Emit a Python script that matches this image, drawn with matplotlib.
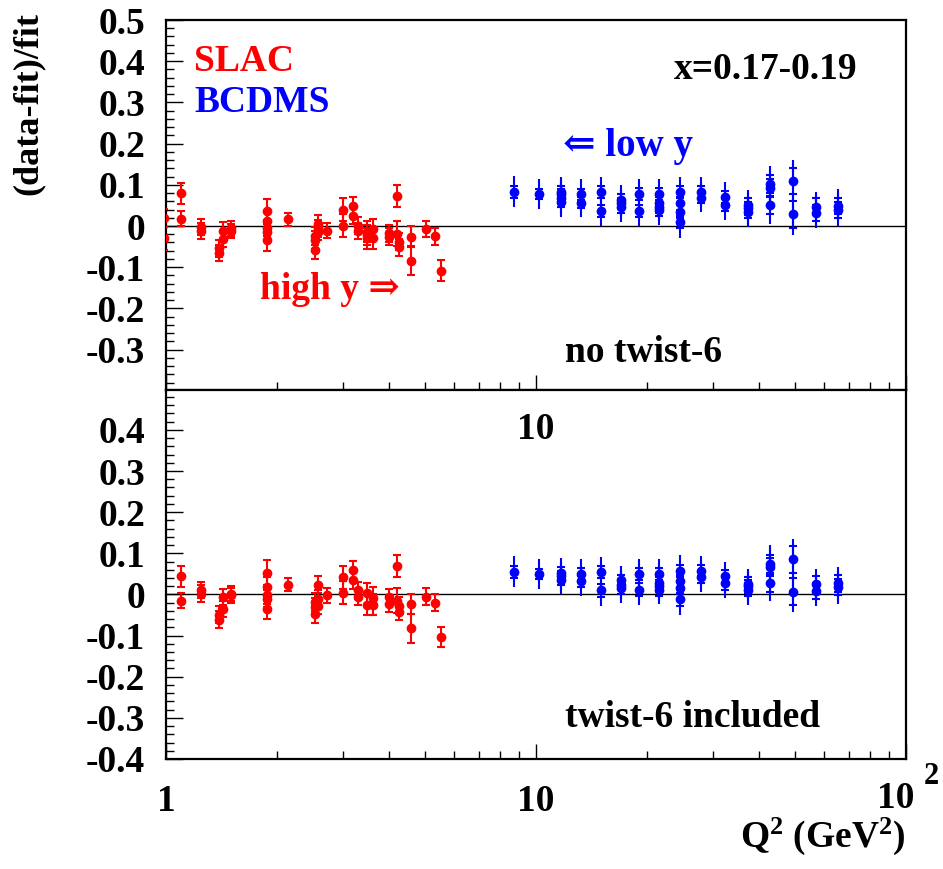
import numpy as np
import matplotlib
matplotlib.use('Agg')
import matplotlib.pyplot as plt

#%% data
# SLAC, upper panel (no twist-6)
slac_q2_top = [0.985, 0.985, 1.096, 1.096, 1.24, 1.24, 1.39, 1.39, 1.43, 1.43,
               1.50, 1.50, 1.87, 1.87, 1.87, 1.87, 1.87, 2.14, 2.52, 2.52,
               2.52, 2.58, 2.58, 2.58, 2.73, 3.00, 3.00, 3.20, 3.20, 3.30,
               3.30, 3.49, 3.49, 3.49, 3.63, 3.63, 4.01, 4.01, 4.20, 4.20,
               4.27, 4.27, 4.59, 4.59, 5.04, 5.33, 5.54]
slac_val_top = [0.020, -0.030, 0.079, 0.018, -0.002, -0.012, -0.054, -0.066, -0.011, -0.032,
                -0.006, -0.012, 0.036, 0.012, -0.005, -0.015, -0.035, 0.016, -0.025, -0.035,
                -0.058, 0.006, -0.006, -0.014, -0.011, 0.039, 0.001, 0.049, 0.025, 0.001,
                -0.012, -0.014, -0.022, -0.030, -0.007, -0.030, -0.018, -0.026, 0.073, -0.019,
                -0.038, -0.052, -0.026, -0.084, -0.007, -0.025, -0.108]
slac_err_top = [0.022, 0.028, 0.025, 0.018, 0.020, 0.020, 0.020, 0.020, 0.020, 0.020,
                0.018, 0.018, 0.030, 0.025, 0.020, 0.020, 0.025, 0.015, 0.022, 0.022,
                0.022, 0.020, 0.020, 0.020, 0.018, 0.028, 0.028, 0.022, 0.020, 0.020,
                0.020, 0.025, 0.025, 0.025, 0.025, 0.025, 0.020, 0.020, 0.027, 0.030,
                0.020, 0.020, 0.025, 0.035, 0.020, 0.020, 0.025]

# SLAC, lower panel (twist-6 included)
slac_q2_bot = [1.096, 1.096, 1.24, 1.24, 1.39, 1.39, 1.43, 1.43, 1.50, 1.50,
               1.87, 1.87, 1.87, 1.87, 1.87, 2.14, 2.52, 2.52, 2.52, 2.58,
               2.58, 2.58, 2.73, 3.00, 3.00, 3.20, 3.20, 3.30, 3.30, 3.49,
               3.49, 3.63, 3.63, 4.01, 4.01, 4.20, 4.20, 4.27, 4.27, 4.59,
               4.59, 5.04, 5.33, 5.54]
slac_val_bot = [0.044, -0.015, 0.011, 0.002, -0.049, -0.061, -0.006, -0.035, 0.002, -0.002,
                0.053, 0.018, -0.002, -0.010, -0.035, 0.024, -0.019, -0.031, -0.047, 0.024,
                -0.010, -0.027, -0.002, 0.042, 0.004, 0.060, 0.034, 0.010, -0.006, 0.003,
                -0.025, -0.008, -0.025, -0.006, -0.023, 0.070, -0.015, -0.027, -0.043, -0.023,
                -0.082, -0.005, -0.020, -0.103]
slac_err_bot = [0.025, 0.018, 0.020, 0.020, 0.020, 0.020, 0.020, 0.020, 0.018, 0.018,
                0.030, 0.025, 0.020, 0.020, 0.025, 0.015, 0.022, 0.022, 0.022, 0.020,
                0.020, 0.020, 0.018, 0.028, 0.028, 0.022, 0.020, 0.020, 0.020, 0.025,
                0.025, 0.025, 0.025, 0.020, 0.020, 0.027, 0.030, 0.020, 0.020, 0.025,
                0.035, 0.020, 0.020, 0.025]

# BCDMS, upper panel
bcdms_q2_top = [8.72, 10.2, 11.7, 11.7, 11.7, 11.7, 13.2, 13.2, 15.0, 15.0,
                17.0, 17.0, 17.0, 19.0, 19.0, 21.5, 21.5, 21.5, 21.5, 24.5,
                24.5, 24.5, 24.5, 27.9, 27.9, 32.4, 32.4, 37.5, 37.5, 37.5,
                42.9, 42.9, 42.9, 49.4, 49.4, 57.0, 57.0, 65.4, 65.4]
bcdms_val_top = [0.083, 0.078, 0.083, 0.077, 0.067, 0.059, 0.077, 0.057, 0.083, 0.036,
                 0.063, 0.055, 0.045, 0.077, 0.036, 0.077, 0.055, 0.047, 0.039, 0.082,
                 0.055, 0.035, 0.010, 0.083, 0.069, 0.071, 0.051, 0.051, 0.043, 0.035,
                 0.101, 0.092, 0.051, 0.110, 0.028, 0.047, 0.031, 0.049, 0.039]
# BCDMS, lower panel
bcdms_q2_bot = [8.72, 10.2, 11.7, 11.7, 11.7, 13.2, 13.2, 15.0, 15.0, 17.0,
                17.0, 17.0, 19.0, 19.0, 21.5, 21.5, 21.5, 21.5, 24.5, 24.5,
                24.5, 24.5, 27.9, 27.9, 32.4, 32.4, 37.5, 37.5, 37.5, 42.9,
                42.9, 42.9, 49.4, 49.4, 57.0, 57.0, 65.4, 65.4]
bcdms_val_bot = [0.055, 0.050, 0.053, 0.044, 0.036, 0.050, 0.032, 0.055, 0.010, 0.034,
                 0.024, 0.016, 0.050, 0.012, 0.050, 0.028, 0.020, 0.012, 0.057, 0.032,
                 0.016, -0.012, 0.058, 0.043, 0.044, 0.027, 0.026, 0.020, 0.012, 0.075,
                 0.067, 0.028, 0.085, 0.007, 0.026, 0.008, 0.027, 0.018]

# BCDMS errors by Q2 bin (stat, total)
bcdms_bins = [8.72, 10.2, 11.7, 13.2, 15.0, 17.0, 19.0, 21.5, 24.5, 27.9,
              32.4, 37.5, 42.9, 49.4, 57.0, 65.4]
bcdms_stat = [0.014, 0.013, 0.014, 0.014, 0.015, 0.014, 0.015, 0.015, 0.015, 0.014,
              0.015, 0.016, 0.022, 0.032, 0.020, 0.020]
bcdms_tot = [0.038, 0.037, 0.036, 0.036, 0.037, 0.036, 0.037, 0.036, 0.038, 0.036,
             0.036, 0.037, 0.045, 0.050, 0.035, 0.040]

yticks_top = [-0.3, -0.2, -0.1, 0, 0.1, 0.2, 0.3, 0.4, 0.5]
yticks_bot = [-0.4, -0.3, -0.2, -0.1, 0, 0.1, 0.2, 0.3, 0.4]

#%% style
FONT = ['Liberation Serif', 'DejaVu Serif']
plt.rcParams['font.family'] = FONT
plt.rcParams['font.weight'] = 'bold'
plt.rcParams['mathtext.fontset'] = 'custom'
plt.rcParams['mathtext.rm'] = 'Liberation Serif:bold'
plt.rcParams['mathtext.bf'] = 'Liberation Serif:bold'
plt.rcParams['mathtext.it'] = 'Liberation Serif:bold'
FS = 27
RED = '#ff0000'
BLUE = '#0000ff'


def fmt_tick(v):
    if v == 0:
        return '0'
    return ('%.1f' % v)


def style_axis(ax, yticks):
    ax.set_xscale('log')
    ax.set_xlim(1, 100)
    ax.set_ylim(-0.4, 0.5)
    for s in ax.spines.values():
        s.set_linewidth(1.6)
    ax.set_yticks(yticks)
    ax.set_yticklabels([fmt_tick(v) for v in yticks], fontsize=FS, fontweight='bold')
    ax.set_yticks(np.arange(-0.4, 0.5001, 0.02), minor=True)
    ax.tick_params(axis='y', which='major', direction='in', length=12, width=1.0,
                   left=True, right=False, pad=15)
    ax.tick_params(axis='y', which='minor', direction='in', length=6, width=1.0,
                   left=True, right=False)
    ax.tick_params(axis='x', which='major', direction='in', length=11, width=1.0,
                   top=False, bottom=True, pad=18)
    ax.tick_params(axis='x', which='minor', direction='in', length=6, width=1.0,
                   top=False, bottom=True)
    ax.axhline(0, color='black', lw=1.0, zorder=1)


def draw_bcdms(ax, q2, val):
    q2 = np.array(q2)
    stat = np.array([bcdms_stat[bcdms_bins.index(q)] for q in q2])
    tot = np.array([bcdms_tot[bcdms_bins.index(q)] for q in q2])
    ax.errorbar(q2, val, yerr=tot, fmt='none', ecolor=BLUE, elinewidth=1.5,
                capsize=0, zorder=3, clip_on=True)
    ax.errorbar(q2, val, yerr=stat, fmt='o', color=BLUE, ms=6, elinewidth=1.5,
                capsize=3.2, capthick=1.5, zorder=4, clip_on=True)


def draw_slac(ax, q2, val, err):
    ax.errorbar(q2, val, yerr=err, fmt='o', color=RED, ms=6, elinewidth=1.5,
                capsize=3, capthick=1.5, zorder=4, clip_on=True)


fig = plt.figure(figsize=(9.43, 8.69), dpi=100)
W, H = 943.0, 869.0
x0, x1 = 166 / W, 906 / W
ax_top = fig.add_axes([x0, 1 - 390 / H, x1 - x0, 370 / H])
ax_bot = fig.add_axes([x0, 1 - 759 / H, x1 - x0, 369 / H])

for ax, yt in ((ax_top, yticks_top), (ax_bot, yticks_bot)):
    style_axis(ax, yt)

ax_top.set_ylim(-0.398, 0.5)
ax_bot.set_ylim(-0.4, 0.497)

draw_slac(ax_top, slac_q2_top, slac_val_top, slac_err_top)
draw_bcdms(ax_top, bcdms_q2_top, bcdms_val_top)
draw_slac(ax_bot, slac_q2_bot, slac_val_bot, slac_err_bot)
draw_bcdms(ax_bot, bcdms_q2_bot, bcdms_val_bot)

# x tick labels
ax_top.set_xticks([1, 10, 100])
ax_top.set_xticklabels([])
ax_bot.set_xticks([1, 10, 100])
ax_bot.set_xticklabels(['1', '10', ''], fontsize=FS, fontweight='bold')
ax_bot.text(896 / W, 1 - 798 / H, '10', transform=fig.transFigure, fontsize=FS,
            fontweight='bold', ha='center', va='center')
fig.text(931 / W, 1 - 776 / H, '2', fontsize=22, fontweight='bold',
         ha='center', va='center')

# stray axis label of the upper frame
ax_bot.text(10, 0.40, '10', fontsize=FS, fontweight='bold', ha='center', va='center')

# annotations
ax_top.text(1.19, 0.40, 'SLAC', color=RED, fontsize=27, fontweight='bold', va='center')
ax_top.text(1.19, 0.30, 'BCDMS', color=BLUE, fontsize=27, fontweight='bold', va='center')
ax_top.text(0.935, 0.865, 'x=0.17-0.19', transform=ax_top.transAxes, fontsize=27,
            fontweight='bold', ha='right', va='center')
ax_top.text(11.8, 0.192, '\u21d0 low y', color=BLUE, fontsize=28, fontweight='bold',
            va='center', family=FONT)
ax_top.text(1.80, -0.153, 'high y \u21d2', color=RED, fontsize=27, fontweight='bold',
            va='center', family=FONT)
ax_top.text(11.95, -0.306, 'no twist-6', fontsize=27, fontweight='bold', va='center')
ax_bot.text(11.95, -0.300, 'twist-6 included', fontsize=27, fontweight='bold', va='center')

fig.text(28 / W, 1 - 12 / H, '(data-fit)/fit', rotation=90, fontsize=26,
         fontweight='bold', ha='center', va='top')
fig.text(905 / W, 1 - 836 / H, r'$\mathbf{Q^{2}}$ (GeV$^{\mathbf{2}}$)', fontsize=27,
         fontweight='bold', ha='right', va='center')

fig.savefig('out.png', dpi=100)
